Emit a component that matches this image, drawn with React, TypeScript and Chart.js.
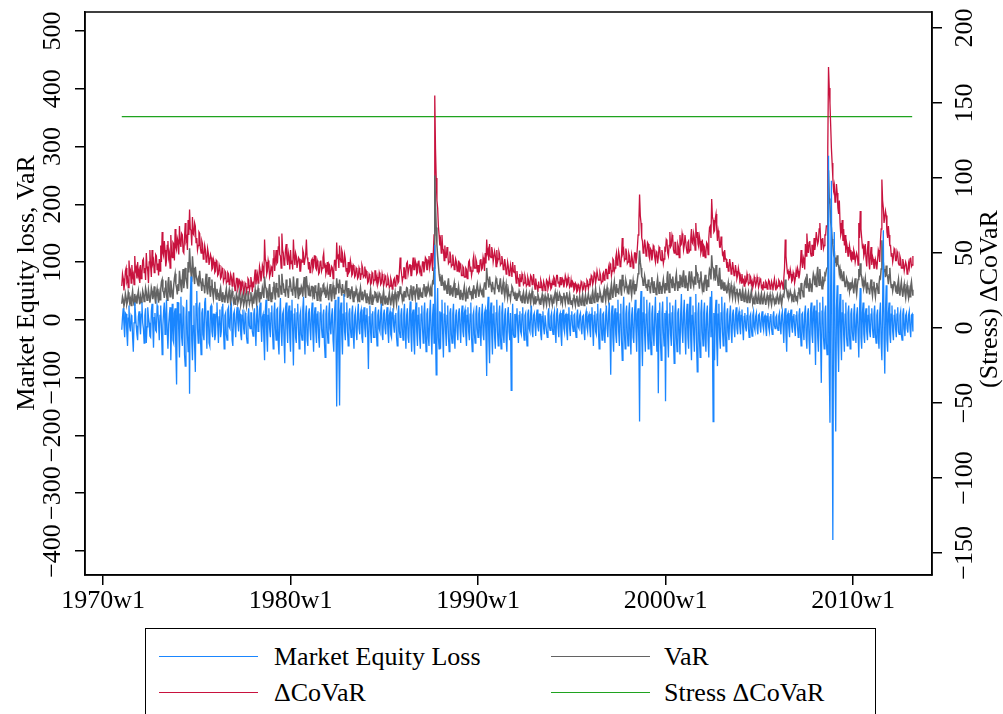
import React, { useEffect, useRef } from 'react';
import { Chart, registerables } from 'chart.js';

Chart.register(...registerables);

// Stata weekly dates: 1960w1 = 0, 52 weeks per year. Series sampled every 2 weeks from 1971w1.
const FIRST_WEEK = 572;
const STEP_WEEKS = 2;

const xTickValues = [520, 1040, 1560, 2080, 2600];
const xTickLabels = ['1970w1', '1980w1', '1990w1', '2000w1', '2010w1'];
const leftTickValues = [-400, -300, -200, -100, 0, 100, 200, 300, 400, 500];
const rightTickValues = [-150, -100, -50, 0, 50, 100, 150, 200];

const legendLabels = ['Market Equity Loss', 'VaR', '\u0394CoVaR', 'Stress \u0394CoVaR'];

// Market Equity Loss (left axis), one row per year 1971..2013
const marketEquityLoss = [
  -17, 5, 20, -8, -30, 12, 10, -22, -45, 3, 25, -12, -20, 8, 5, -30, -55, -5, 30, 12, -10, -25, -35, 6, 15, -8,
  -25, 10, 30, -5, -15, -40, 8, 20, -40, -12, 22, 5, -5, -28, -30, 15, 28, -10, -48, 4, 12, -18, -20, 25, 18, -6,
  -35, 8, 25, -15, -60, -10, 15, 30, -25, 5, 35, -20, -50, -8, 10, 22, -70, -15, 28, -35, -40, 12, 20, -55, -112, 30,
  30, -20, -65, 10, 40, -30, -45, 22, 20, -60, -80, 5, 35, -25, -55, 15, -128, 40, 75, -35, -70, -10, 25, -45, -90, 28,
  50, -15, -40, 20, 30, -30, -60, 12, 20, -25, -35, 30, 38, -10, -50, 15, 15, -40, -45, 22, 25, -20, -30, 10, 10, -35,
  -25, 12, 30, -10, -40, 5, 18, -30, -20, 22, 28, -15, -50, 8, 12, -25, -35, 18, 22, -12, -15, 20, 25, -35, -45, 10,
  15, -12, -30, 10, 22, -5, -20, 15, 10, -25, -35, 8, 18, -15, -25, 12, 8, -30, -40, 5, 20, -10, -15, 12, 12, -20,
  -28, 10, 20, -15, -45, 8, 25, -20, -15, 18, 30, -10, -38, 5, 10, -30, -70, 15, 35, -25, -55, 8, 20, -15, -30, 12,
  25, -20, -50, 10, 30, -15, -35, 18, 20, -40, -60, 12, 38, -20, -45, 10, 15, -35, -75, 20, 30, -15, -40, 12, 25, -30,
  -55, 15, 35, -20, -79, 10, 20, -30, -40, 12, 28, -15, -50, 8, 15, -25, -35, 18, 40, -20, -60, 10, 25, -35, -45, 12,
  20, -15, -35, 12, 30, -25, -55, 8, 22, -20, -40, 10, 15, -30, -48, 12, 28, -15, -30, 8, 18, -40, -65, 10, 25, -20,
  -40, 10, 30, -15, -25, 8, 20, -35, -55, 12, 35, -20, -150, -30, 40, -60, -148, 15, 30, -25, -60, 10, 45, -20, -35, 12,
  30, -20, -45, 10, 20, -15, -30, 12, 25, -25, -50, 8, 15, -20, -35, 10, 28, -15, -25, 12, 18, -30, -40, 8, 22, -15,
  -30, 8, 20, -25, -85, 5, 25, -20, -40, 10, 15, -30, -30, 12, 22, -20, -45, 8, 18, -15, -20, 12, 28, -25, -35, 10,
  18, -15, -25, 10, 22, -20, -40, 8, 15, -25, -30, 12, 20, -10, -22, 8, 12, -30, -45, 10, 25, -20, -30, 8, 20, -15,
  -35, 10, 28, -20, -50, 8, 20, -30, -40, 12, 32, -25, -55, 10, 18, -35, -60, 12, 30, -20, -45, 8, 22, -30, -50, 10,
  25, -15, -40, 12, 30, -25, -55, 10, 20, -30, -45, 12, 35, -25, -60, 8, 28, -40, 130, -20, -95, 10, 55, -30, -50, 15,
  -50, 12, 35, -25, -65, 10, 30, -20, -45, 8, 25, -30, -55, 12, 20, -25, -40, 10, 28, -30, -50, 8, 18, -20, -35, 12,
  20, -15, -40, 10, 25, -20, -30, 12, 18, -25, -45, 8, 22, -20, -35, 10, 30, -30, -55, 8, 15, -25, -40, 10, 25, -15,
  -30, 10, 22, -20, -45, 8, 28, -25, -35, 12, 18, -30, -97, 15, 40, -35, -75, 12, 30, -25, -60, 10, 25, -30, -50, 12,
  35, -20, -45, 10, 25, -30, -50, 12, 30, -25, -40, 8, 20, -35, -55, 10, 22, -20, -35, 12, -122, -20, 28, -25, -30, 10,
  -30, 10, 20, -15, -40, 8, 15, -20, -25, 10, 22, -20, -35, 8, 12, -25, -45, 10, 18, -15, -20, 10, 25, -20, -30, 8,
  12, -10, -28, 8, 18, -12, -20, 10, 10, -25, -35, 6, 15, -15, -25, 8, 8, -20, -30, 10, 20, -12, -18, 6, 12, -15,
  -25, 8, 15, -20, -40, 10, 20, -15, -30, 8, 12, -25, -45, 10, 18, -15, -22, 8, 10, -20, -35, 10, 22, -15, -28, 8,
  15, -10, -20, 8, 10, -18, -30, 6, 18, -12, -15, 8, 12, -15, -25, 6, 8, -20, -35, 8, 15, -12, -20, 6, 10, -15,
  -30, 10, 22, -15, -45, 8, 15, -20, -25, 10, 28, -20, -50, 8, 20, -15, -35, 10, 12, -25, -40, 8, 25, -15, -30, 10,
  30, -20, -95, 10, 25, -30, -55, 8, 20, -25, -40, 12, 35, -20, -45, 10, 28, -35, -70, 12, 40, -25, -50, 10, 25, -20,
  -45, 12, 30, -25, -60, 8, 22, -30, -40, 12, 35, -20, -55, 10, 20, -40, -176, 15, 50, -30, -80, 12, 40, -25, -55, 10,
  35, -20, -50, 12, 30, -35, -60, 10, 25, -25, -45, 8, 40, -20, -55, 12, -127, 15, 30, -40, -70, 10, 32, -20, -45, 12,
  -141, 15, 40, -30, -65, 10, 30, -25, -45, 12, 25, -35, -75, 10, 35, -30, -55, 12, 20, -25, -60, 10, 45, -20, -40, 12,
  35, -25, -60, 10, 28, -30, -50, 12, 40, -35, -70, 8, 25, -25, -55, 12, 45, -40, -90, 10, 30, -35, -65, 12, 35, -20,
  -45, 12, 30, -30, -55, 10, 25, -35, -65, 8, 40, -30, 50, -25, -176, 12, -70, 15, 35, -40, -80, 10, 28, -30, -50, 12,
  40, -20, -45, 12, 30, -25, -55, 10, 20, -20, -35, 8, 25, -20, -40, 10, 18, -15, -30, 8, 22, -15, -25, 8, 15, -12,
  -25, 8, 18, -15, -35, 6, 12, -12, -20, 8, 22, -15, -30, 6, 10, -15, -28, 8, 15, -12, -18, 6, 12, -15, -25, 8,
  10, -10, -22, 6, 15, -10, -18, 5, 8, -15, -28, 6, 12, -12, -20, 5, 10, -15, -25, 6, 15, -10, -15, 5, 8, -12,
  -18, 6, 12, -10, -25, 8, 15, -12, -40, 10, 20, -25, -55, 8, 12, -15, -30, 8, 18, -12, -22, 6, 10, -15, -28, 8,
  15, -12, -30, 8, 20, -20, -45, 10, 12, -20, -35, 12, 25, -30, -50, 10, 20, -35, -60, 15, 30, -25, -40, 12, 25, -20,
  -78, 15, 35, -30, -55, 12, 30, -35, -109, 15, 40, -30, -50, 12, 25, -40, -60, 30, 284, -80, -178, 60, 241, -120, -381, 40,
  152, -60, -193, 20, 60, -40, -90, 15, 45, -30, -70, 12, 35, -25, -55, 10, 30, -30, -45, 12, 25, -25, -50, 10, 20, -20,
  -35, 10, 28, -20, -40, 8, 22, -25, -65, 15, 55, -30, -50, 12, 30, -25, -40, 10, 20, -20, -35, 8, 25, -20, -30, 10,
  20, -15, -30, 10, 25, -25, -40, 8, 18, -30, -50, 12, 30, -40, -70, 20, 155, -30, -93, 15, 60, -35, -55, 12, 30, -25,
  -40, 10, 25, -20, -35, 8, 18, -15, -30, 10, 22, -20, -25, 8, 15, -25, -35, 10, 20, -15, -28, 8, 12, -15, -22, 8,
  15, -15, -30, 8, 10, -20,
];

// VaR (left axis), one row per year 1971..2013
const valueAtRisk = [
  28, 40, 35, 24, 30, 45, 38, 27, 32, 48, 42, 30, 36, 25, 40, 50, 34, 26, 45, 33, 38, 28, 42, 50, 36, 27,
  40, 30, 35, 50, 44, 32, 38, 55, 48, 34, 36, 52, 42, 30, 39, 56, 50, 36, 43, 58, 38, 28, 46, 54, 41, 30,
  45, 35, 52, 66, 70, 50, 48, 38, 55, 68, 44, 34, 62, 74, 50, 40, 68, 54, 48, 36, 60, 72, 80, 62, 55, 44,
  62, 50, 85, 70, 58, 48, 72, 88, 55, 68, 90, 74, 66, 54, 100, 82, 124, 96, 80, 66, 110, 90, 75, 62, 92, 78,
  78, 64, 70, 58, 85, 68, 62, 50, 72, 60, 58, 46, 66, 80, 54, 44, 62, 74, 50, 40, 58, 70, 48, 38, 54, 66,
  46, 36, 54, 42, 44, 34, 50, 56, 42, 32, 48, 38, 40, 30, 46, 54, 38, 29, 44, 52, 37, 28, 42, 50, 40, 31,
  37, 27, 33, 45, 40, 30, 35, 48, 38, 26, 32, 44, 37, 25, 31, 46, 36, 24, 34, 50, 39, 28, 34, 48, 37, 26,
  38, 28, 42, 52, 36, 27, 45, 55, 40, 30, 48, 36, 43, 56, 50, 38, 75, 58, 55, 42, 46, 34, 52, 62, 44, 32,
  48, 36, 56, 66, 46, 35, 64, 50, 52, 40, 78, 60, 58, 45, 80, 64, 62, 48, 54, 40, 70, 56, 50, 38, 58, 72,
  64, 50, 54, 42, 75, 58, 50, 38, 60, 72, 48, 36, 56, 44, 46, 58, 54, 40, 62, 74, 50, 38, 76, 60, 55, 42,
  54, 42, 46, 58, 58, 44, 50, 36, 60, 48, 48, 34, 53, 64, 45, 33, 56, 44, 49, 60, 62, 48, 52, 38, 46, 56,
  44, 34, 52, 62, 42, 32, 50, 60, 47, 36, 56, 44, 72, 58, 60, 46, 70, 56, 54, 42, 62, 48, 52, 40, 57, 68,
  50, 38, 55, 44, 47, 36, 52, 58, 44, 32, 50, 40, 43, 54, 48, 36, 42, 32, 47, 56, 44, 34, 49, 38, 43, 52,
  40, 30, 46, 36, 38, 28, 43, 52, 37, 27, 44, 34, 39, 48, 47, 36, 42, 30, 38, 46, 43, 32, 37, 26, 41, 50,
  37, 28, 42, 32, 35, 26, 39, 47, 34, 25, 38, 45, 33, 24, 40, 48, 36, 27, 43, 50, 38, 44, 58, 46, 44, 34,
  42, 32, 50, 40, 46, 56, 55, 42, 44, 34, 52, 60, 43, 33, 58, 46, 48, 38, 53, 62, 46, 36, 56, 44, 50, 40,
  48, 38, 55, 62, 52, 40, 58, 45, 49, 60, 60, 46, 54, 42, 56, 66, 64, 90, 250, 200, 160, 130, 110, 95, 80, 70,
  72, 60, 78, 66, 64, 52, 68, 56, 58, 46, 62, 72, 54, 42, 60, 48, 52, 40, 56, 64, 50, 38, 55, 44, 48, 58,
  46, 36, 52, 42, 44, 34, 50, 58, 42, 32, 48, 38, 46, 54, 56, 44, 50, 40, 47, 36, 60, 48, 50, 38, 54, 62,
  52, 40, 47, 58, 58, 46, 50, 40, 55, 64, 64, 52, 90, 72, 68, 56, 75, 62, 60, 48, 66, 54, 56, 44, 62, 72,
  68, 56, 58, 48, 62, 72, 54, 44, 57, 66, 50, 40, 53, 62, 47, 38, 51, 42, 45, 36, 49, 58, 55, 44, 46, 36,
  43, 34, 47, 38, 41, 50, 45, 36, 39, 30, 42, 48, 37, 28, 41, 48, 36, 28, 40, 46, 37, 29, 42, 50, 38, 30,
  37, 28, 41, 32, 35, 44, 39, 30, 34, 26, 37, 44, 33, 25, 36, 42, 33, 26, 38, 46, 35, 27, 37, 44, 34, 26,
  36, 28, 41, 48, 37, 29, 43, 34, 38, 46, 42, 32, 36, 28, 40, 47, 37, 29, 41, 48, 36, 28, 38, 45, 35, 27,
  34, 26, 37, 44, 32, 25, 36, 42, 31, 24, 35, 41, 33, 26, 37, 44, 32, 25, 36, 43, 34, 27, 38, 45, 36, 28,
  37, 29, 42, 50, 38, 30, 45, 54, 41, 32, 47, 36, 40, 50, 44, 34, 38, 30, 46, 54, 42, 33, 48, 56, 43, 34,
  45, 36, 52, 62, 47, 38, 56, 66, 50, 40, 62, 48, 55, 44, 60, 70, 52, 42, 78, 62, 65, 52, 57, 68, 62, 50,
  55, 44, 60, 70, 52, 42, 57, 68, 54, 44, 62, 50, 58, 70, 80, 95, 120, 100, 90, 75, 72, 60, 64, 76, 68, 56,
  62, 50, 70, 58, 57, 46, 64, 74, 60, 48, 67, 56, 55, 44, 62, 72, 58, 46, 66, 54, 56, 45, 61, 70, 57, 46,
  64, 52, 72, 84, 60, 48, 80, 66, 68, 56, 75, 62, 62, 50, 71, 80, 61, 50, 67, 56, 78, 64, 70, 58, 75, 86,
  68, 56, 77, 64, 62, 50, 72, 84, 65, 54, 84, 70, 70, 58, 75, 62, 95, 78, 80, 66, 67, 54, 72, 84, 65, 52,
  60, 48, 67, 78, 62, 50, 70, 58, 75, 88, 85, 70, 112, 92, 90, 76, 81, 68, 95, 80, 72, 60, 77, 90, 67, 54,
  70, 58, 62, 50, 65, 54, 57, 46, 55, 64, 50, 40, 52, 60, 47, 38, 50, 58, 45, 36, 47, 54, 44, 35, 46, 54,
  42, 34, 45, 52, 40, 32, 44, 50, 38, 30, 41, 48, 37, 29, 42, 50, 38, 30, 36, 28, 40, 46, 37, 29, 38, 45,
  36, 28, 40, 46, 35, 27, 38, 44, 33, 26, 37, 43, 35, 27, 38, 44, 33, 26, 36, 42, 37, 29, 35, 27, 37, 43,
  35, 27, 38, 44, 33, 26, 37, 43, 41, 52, 70, 56, 52, 42, 47, 38, 42, 50, 45, 36, 40, 32, 43, 50, 41, 33,
  42, 34, 47, 56, 45, 36, 64, 52, 50, 40, 56, 66, 70, 56, 80, 64, 62, 50, 72, 58, 60, 48, 68, 80, 75, 60,
  70, 58, 80, 92, 72, 60, 88, 72, 65, 54, 75, 62, 68, 80, 78, 86, 90, 150, 259, 210, 200, 170, 160, 140, 130, 115,
  120, 100, 108, 92, 112, 96, 95, 80, 88, 76, 80, 68, 72, 84, 68, 58, 62, 72, 67, 56, 60, 50, 65, 54, 56, 66,
  57, 46, 62, 72, 55, 45, 60, 70, 88, 74, 98, 80, 75, 62, 68, 56, 62, 72, 57, 46, 65, 54, 55, 44, 60, 70,
  52, 42, 57, 66, 50, 40, 55, 64, 56, 46, 62, 74, 72, 88, 138, 112, 100, 84, 88, 74, 94, 78, 75, 62, 78, 90,
  68, 56, 62, 50, 58, 66, 65, 52, 56, 46, 61, 70, 52, 42, 57, 66, 50, 40, 54, 62, 47, 38, 52, 60, 46, 38,
  50, 40, 58, 66, 52, 42,
];

// ΔCoVaR (right axis), one row per year 1971..2013
const deltaCoVaR = [
  28, 36, 33, 25, 30, 38, 40, 31, 33, 27, 45, 36, 38, 30, 42, 34, 36, 29, 48, 38, 40, 33, 44, 35, 38, 30,
  42, 33, 36, 45, 46, 37, 40, 32, 50, 41, 38, 30, 44, 52, 41, 34, 52, 43, 45, 37, 40, 49, 48, 39, 43, 35,
  46, 38, 55, 44, 64, 50, 48, 58, 52, 41, 45, 55, 58, 47, 50, 40, 62, 51, 47, 57, 56, 45, 66, 54, 52, 60,
  58, 49, 68, 57, 54, 63, 62, 51, 50, 60, 70, 58, 60, 52, 72, 62, 79, 66, 65, 55, 74, 63, 62, 70, 68, 57,
  60, 52, 55, 64, 63, 53, 50, 58, 56, 46, 48, 55, 52, 44, 45, 53, 50, 42, 42, 49, 47, 39, 40, 46, 44, 37,
  38, 45, 44, 35, 36, 42, 40, 33, 34, 40, 39, 31, 33, 38, 37, 30, 31, 37, 36, 29, 30, 36, 34, 28, 32, 37,
  30, 25, 27, 33, 33, 26, 28, 32, 31, 24, 26, 31, 30, 23, 25, 30, 29, 24, 27, 33, 32, 25, 28, 34, 30, 24,
  31, 27, 34, 39, 29, 33, 36, 30, 33, 41, 38, 31, 35, 42, 40, 33, 59, 46, 44, 36, 38, 45, 42, 34, 36, 41,
  40, 34, 46, 52, 38, 45, 52, 43, 44, 54, 61, 49, 48, 40, 63, 52, 50, 42, 44, 52, 56, 46, 42, 50, 47, 39,
  52, 43, 45, 39, 59, 48, 42, 50, 48, 40, 40, 47, 46, 38, 38, 45, 44, 52, 50, 42, 42, 49, 59, 47, 45, 39,
  44, 37, 38, 45, 46, 39, 41, 48, 48, 40, 39, 45, 43, 36, 37, 44, 45, 38, 40, 47, 50, 41, 42, 36, 38, 44,
  36, 43, 42, 34, 34, 41, 40, 33, 38, 45, 45, 38, 57, 47, 48, 40, 55, 46, 44, 52, 50, 41, 42, 49, 46, 38,
  40, 34, 44, 37, 38, 45, 42, 35, 36, 42, 41, 34, 35, 40, 39, 33, 34, 40, 38, 32, 36, 42, 40, 34, 35, 41,
  33, 38, 37, 30, 31, 36, 35, 29, 30, 37, 36, 30, 32, 38, 38, 31, 34, 29, 31, 37, 35, 29, 30, 36, 33, 28,
  30, 35, 34, 28, 29, 34, 32, 27, 28, 33, 31, 26, 27, 32, 33, 28, 29, 35, 35, 30, 31, 38, 47, 40, 36, 31,
  34, 40, 40, 33, 37, 43, 44, 36, 36, 42, 42, 35, 35, 41, 47, 39, 39, 45, 43, 36, 37, 44, 45, 38, 40, 35,
  38, 44, 44, 37, 41, 47, 46, 39, 39, 45, 48, 40, 43, 50, 45, 38, 50, 62, 155, 120, 100, 85, 80, 68, 62, 55,
  58, 50, 62, 53, 52, 45, 55, 47, 47, 54, 50, 43, 44, 51, 48, 41, 42, 49, 45, 39, 40, 46, 44, 38, 39, 45,
  37, 43, 42, 35, 35, 41, 40, 34, 34, 40, 39, 33, 37, 44, 45, 38, 41, 35, 38, 45, 48, 40, 40, 46, 44, 37,
  42, 37, 38, 45, 46, 39, 40, 47, 44, 38, 50, 43, 59, 50, 52, 45, 56, 48, 47, 54, 51, 44, 44, 51, 48, 41,
  52, 44, 46, 51, 49, 42, 43, 48, 45, 39, 40, 46, 42, 36, 38, 44, 41, 35, 36, 42, 39, 34, 44, 38, 37, 42,
  35, 30, 38, 33, 33, 28, 36, 31, 31, 36, 34, 29, 30, 35, 33, 28, 29, 34, 32, 28, 30, 35, 34, 29, 31, 36,
  30, 26, 33, 29, 28, 24, 31, 27, 27, 32, 30, 25, 26, 31, 29, 25, 27, 32, 31, 26, 28, 33, 30, 26, 27, 31,
  29, 34, 33, 28, 30, 35, 35, 30, 31, 27, 34, 29, 29, 33, 32, 27, 30, 35, 33, 28, 29, 34, 31, 27, 28, 32,
  27, 31, 30, 25, 26, 30, 29, 24, 25, 29, 28, 24, 27, 31, 30, 25, 26, 30, 29, 25, 28, 32, 31, 26, 29, 33,
  30, 35, 34, 29, 31, 37, 36, 30, 33, 38, 38, 32, 32, 37, 35, 30, 31, 36, 37, 32, 34, 39, 39, 33, 35, 40,
  36, 43, 42, 35, 38, 46, 45, 38, 40, 47, 50, 42, 44, 51, 48, 41, 42, 49, 60, 50, 52, 45, 46, 53, 50, 43,
  44, 50, 48, 41, 42, 49, 46, 40, 43, 50, 50, 43, 47, 54, 62, 70, 89, 75, 70, 60, 58, 50, 52, 59, 55, 48,
  50, 57, 56, 48, 46, 53, 52, 45, 48, 55, 54, 47, 44, 51, 50, 43, 47, 54, 53, 46, 45, 52, 49, 43, 46, 53,
  52, 59, 58, 50, 48, 55, 64, 54, 55, 62, 60, 52, 50, 57, 57, 49, 49, 56, 54, 47, 62, 55, 56, 63, 60, 52,
  55, 62, 62, 53, 50, 57, 58, 51, 52, 60, 66, 57, 56, 63, 60, 52, 70, 60, 64, 56, 54, 61, 58, 50, 52, 59,
  48, 55, 54, 47, 50, 57, 56, 49, 60, 67, 68, 60, 86, 74, 72, 64, 65, 73, 76, 66, 58, 65, 62, 54, 54, 61,
  56, 49, 50, 44, 52, 46, 46, 40, 44, 38, 40, 46, 42, 36, 38, 44, 40, 35, 36, 42, 38, 33, 35, 40, 37, 32,
  34, 30, 36, 31, 32, 28, 35, 30, 31, 36, 33, 29, 30, 35, 34, 29, 31, 27, 29, 34, 32, 28, 30, 34, 31, 27,
  29, 33, 32, 27, 28, 25, 31, 27, 27, 31, 30, 26, 28, 32, 31, 26, 27, 31, 29, 25, 30, 33, 28, 25, 30, 27,
  28, 32, 31, 27, 27, 31, 30, 26, 33, 40, 59, 48, 42, 37, 38, 33, 34, 39, 36, 31, 32, 37, 35, 30, 33, 38,
  34, 40, 38, 33, 36, 42, 52, 44, 40, 47, 45, 39, 56, 48, 63, 54, 50, 57, 58, 50, 48, 55, 55, 48, 60, 52,
  56, 64, 64, 56, 58, 66, 70, 60, 52, 59, 60, 53, 55, 62, 62, 68, 68, 120, 174, 160, 150, 135, 120, 110, 100, 92,
  95, 84, 86, 96, 90, 80, 76, 85, 70, 62, 64, 72, 58, 66, 55, 62, 50, 57, 54, 48, 48, 55, 52, 46, 45, 51,
  46, 52, 50, 44, 44, 50, 48, 42, 70, 60, 78, 66, 60, 54, 55, 48, 50, 56, 46, 41, 52, 58, 44, 39, 48, 54,
  42, 48, 46, 40, 40, 46, 44, 39, 45, 52, 50, 44, 58, 66, 99, 85, 80, 70, 70, 78, 75, 64, 60, 68, 62, 55,
  55, 48, 50, 44, 47, 53, 52, 45, 45, 51, 49, 43, 42, 48, 46, 40, 40, 46, 43, 38, 38, 44, 42, 36, 37, 43,
  40, 46, 47, 41, 42, 48,
];

// Stress ΔCoVaR (right axis), constant over the sample
const stressDeltaCoVaR = 141;

const BLUE = '#1a86ff';
const GRAY = '#636363';
const RED = '#c8123e';
const GREEN = '#1fa31f';
const FONT = '"Liberation Serif", "Times New Roman", serif';

const W = 1003;
const H = 714;

const weekOf = (i: number) => FIRST_WEEK + STEP_WEEKS * i;
const toPoints = (arr: number[]) => arr.map((v, i) => ({ x: weekOf(i), y: v }));
const fmt = (v: number) => (v < 0 ? '\u2212' + Math.abs(v) : String(v));

const axisTextPlugin = {
  id: 'axisText',
  afterDraw(chart: any) {
    const { ctx, chartArea, scales } = chart;
    ctx.save();
    ctx.strokeStyle = '#000';
    ctx.lineWidth = 1.5;
    ctx.strokeRect(chartArea.left, chartArea.top, chartArea.right - chartArea.left, chartArea.bottom - chartArea.top);

    ctx.fillStyle = '#000';
    ctx.font = `26px ${FONT}`;
    ctx.textAlign = 'center';
    ctx.textBaseline = 'middle';
    const drawRot = (text: string, x: number, y: number) => {
      ctx.save();
      ctx.translate(x, y);
      ctx.rotate(-Math.PI / 2);
      ctx.fillText(text, 0, 0);
      ctx.restore();
    };
    leftTickValues.forEach((v) => drawRot(fmt(v), 53, scales.yL.getPixelForValue(v)));
    rightTickValues.forEach((v) => drawRot(fmt(v), 965, scales.yR.getPixelForValue(v)));
    drawRot('Market Equity loss, VaR', 27, 283);
    drawRot('(Stress) \u0394CoVaR', 990, 299);
    ctx.restore();
  },
};

export default function App() {
  const canvasRef = useRef<HTMLCanvasElement | null>(null);

  useEffect(() => {
    const canvas = canvasRef.current;
    if (!canvas) return;
    const tickGrid = {
      display: true,
      drawOnChartArea: false,
      drawTicks: true,
      tickLength: 10,
      color: '#000',
      lineWidth: 1.5,
    };
    const lineDefaults = { pointRadius: 0, tension: 0, borderJoinStyle: 'miter' };
    const chart = new Chart(canvas, {
      type: 'line',
      data: {
        datasets: [
          {
            ...lineDefaults,
            label: legendLabels[0],
            data: toPoints(marketEquityLoss),
            yAxisID: 'yL',
            borderColor: BLUE,
            borderWidth: 1.3,
            order: 0,
          },
          {
            ...lineDefaults,
            label: legendLabels[1],
            data: toPoints(valueAtRisk),
            yAxisID: 'yL',
            borderColor: GRAY,
            borderWidth: 1.5,
            order: 1,
          },
          {
            ...lineDefaults,
            label: legendLabels[2],
            data: toPoints(deltaCoVaR),
            yAxisID: 'yR',
            borderColor: RED,
            borderWidth: 1.3,
            order: 2,
          },
          {
            ...lineDefaults,
            label: legendLabels[3],
            data: marketEquityLoss.map((_, i) => ({ x: weekOf(i), y: stressDeltaCoVaR })),
            yAxisID: 'yR',
            borderColor: GREEN,
            borderWidth: 1.2,
            order: 3,
          },
        ],
      },
      options: {
        responsive: false,
        animation: false,
        devicePixelRatio: 1,
        layout: { padding: { top: 12, left: 0, right: 0, bottom: 0 } },
        plugins: { legend: { display: false }, tooltip: { enabled: false } },
        scales: {
          x: {
            type: 'linear',
            position: 'bottom',
            min: 470,
            max: 2819,
            afterBuildTicks: (s: any) => {
              s.ticks = xTickValues.map((v) => ({ value: v }));
            },
            afterFit: (s: any) => {
              s.height = H - 575;
            },
            ticks: {
              autoSkip: false,
              maxRotation: 0,
              minRotation: 0,
              padding: 1,
              color: '#000',
              font: { family: FONT, size: 26 },
              callback: (v: any) => {
                const k = xTickValues.indexOf(Number(v));
                return k >= 0 ? xTickLabels[k] : '';
              },
            },
            grid: tickGrid,
            border: { display: true, color: '#000', width: 1.5 },
          },
          yL: {
            type: 'linear',
            position: 'left',
            min: -441.6,
            max: 533,
            afterBuildTicks: (s: any) => {
              s.ticks = leftTickValues.map((v) => ({ value: v }));
            },
            afterFit: (s: any) => {
              s.width = 85;
            },
            ticks: { display: false },
            grid: tickGrid,
            border: { display: true, color: '#000', width: 1.5 },
          },
          yR: {
            type: 'linear',
            position: 'right',
            min: -164.7,
            max: 210.7,
            afterBuildTicks: (s: any) => {
              s.ticks = rightTickValues.map((v) => ({ value: v }));
            },
            afterFit: (s: any) => {
              s.width = W - 932;
            },
            ticks: { display: false },
            grid: tickGrid,
            border: { display: true, color: '#000', width: 1.5 },
          },
        },
      } as any,
      plugins: [axisTextPlugin],
    });
    return () => chart.destroy();
  }, []);

  const textStyle: React.CSSProperties = {
    position: 'absolute',
    fontFamily: FONT,
    fontSize: 26,
    lineHeight: '30px',
    color: '#000',
    whiteSpace: 'nowrap',
  };
  const lineStyle = (color: string): React.CSSProperties => ({
    position: 'absolute',
    width: 99,
    height: 0,
    borderTop: `1.5px solid ${color}`,
  });
  const items = [
    { label: legendLabels[0], color: BLUE, lx: 13, tx: 128, cy: 28 },
    { label: legendLabels[1], color: GRAY, lx: 405, tx: 518, cy: 28 },
    { label: legendLabels[2], color: RED, lx: 13, tx: 128, cy: 64 },
    { label: legendLabels[3], color: GREEN, lx: 405, tx: 518, cy: 64 },
  ];

  return (
    <div style={{ position: 'absolute', left: 0, top: 0, width: W, height: H, overflow: 'hidden', background: '#fff' }}>
      <canvas ref={canvasRef} width={W} height={H} style={{ position: 'absolute', left: 0, top: 0, width: W, height: H }} />
      <div
        style={{
          position: 'absolute',
          left: 145,
          top: 628,
          width: 731,
          height: 110,
          border: '1.5px solid #000',
          boxSizing: 'border-box',
          background: '#fff',
        }}
      >
        {items.map((it) => (
          <React.Fragment key={it.label}>
            <div style={{ ...lineStyle(it.color), left: it.lx, top: it.cy - 1 }} />
            <div style={{ ...textStyle, left: it.tx, top: it.cy - 15 }}>{it.label}</div>
          </React.Fragment>
        ))}
      </div>
    </div>
  );
}
